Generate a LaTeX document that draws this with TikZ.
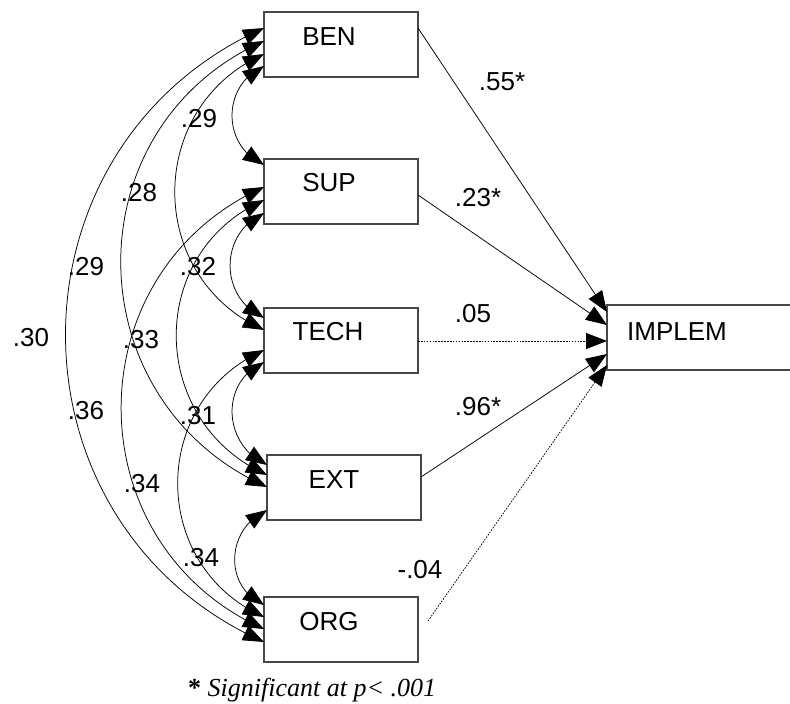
\documentclass[tikz,border=0pt]{standalone}
\usepackage{fontspec}
\setmainfont{Liberation Sans}
\newfontfamily\fnfont{Liberation Serif}
\usetikzlibrary{arrows.meta,bending,calc}
\begin{document}
\begin{tikzpicture}[x=1pt,y=1pt,
  box/.style={draw=black!72, line width=1.2pt, minimum width=154pt, minimum height=65pt,
    inner sep=0pt, outer sep=0pt, anchor=north west},
  txt/.style={font=\fontsize{26}{30}\selectfont, inner sep=0pt},
  conn/.style={line width=0.75pt, -{Triangle[length=21pt,width=16pt]}},
  corr/.style={line width=0.75pt, {Triangle[length=21pt,width=16pt]}-{Triangle[length=21pt,width=16pt]},
    out=204, in=156, looseness=1.21},
  dotline/.style={dash pattern=on 1.6pt off 1.3pt}
]
\useasboundingbox (0,0) rectangle (790,-704);

% boxes
\node[box] (BEN) at (264,-12) {};
\node[box] (SUP) at (264,-159) {};
\node[box] (TECH) at (264,-308) {};
\node[box] (EXT) at (267,-455) {};
\node[box] (ORG) at (264,-597) {};
\node[box, minimum width=186pt] (IMP) at (607,-305) {};

\node[txt] (tBEN) at (329,-37) {BEN};
\node[txt] (tSUP) at (329,-183) {SUP};
\node[txt] (tTECH) at (328,-332) {TECH};
\node[txt] (tEXT) at (334,-480) {EXT};
\node[txt] (tORG) at (329,-622) {ORG};
\node[txt] (tIMP) at (677,-332) {IMPLEM};

% left edge points
\coordinate (B1) at ($(BEN.north west)+(0,-16)$);
\coordinate (B2) at ($(BEN.north west)+(0,-29)$);
\coordinate (B3) at ($(BEN.north west)+(0,-42)$);
\coordinate (B4) at ($(BEN.north west)+(0,-54)$);
\coordinate (S1) at ($(SUP.north west)+(0,-6)$);
\coordinate (S2) at ($(SUP.north west)+(0,-28)$);
\coordinate (S3) at ($(SUP.north west)+(0,-41)$);
\coordinate (S4) at ($(SUP.north west)+(0,-54)$);
\coordinate (T1) at ($(TECH.north west)+(0,-10)$);
\coordinate (T2) at ($(TECH.north west)+(0,-22)$);
\coordinate (T3) at ($(TECH.north west)+(0,-42)$);
\coordinate (T4) at ($(TECH.north west)+(0,-54)$);
\coordinate (E1) at ($(EXT.north west)+(0,-10)$);
\coordinate (E2) at ($(EXT.north west)+(0,-20)$);
\coordinate (E3) at ($(EXT.north west)+(0,-32)$);
\coordinate (E4) at ($(EXT.north west)+(0,-55)$);
\coordinate (O1) at ($(ORG.north west)+(0,-8)$);
\coordinate (O2) at ($(ORG.north west)+(0,-20)$);
\coordinate (O3) at ($(ORG.north west)+(0,-32)$);
\coordinate (O4) at ($(ORG.north west)+(0,-45)$);

% correlations
\draw[corr] (B4) to (S1);
\draw[corr] (B3) to (T2);
\draw[corr] (B2) to (E3);
\draw[corr] (B1) to (O4);
\draw[corr] (S4) to (T1);
\draw[corr] (S3) to (E2);
\draw[corr] (S2) to (O3);
\draw[corr] (T4) to (E1);
\draw[corr] (T3) to (O2);
\draw[corr] (E4) to (O1);

% correlation labels
\node[txt] (c1) at (199,-119) {.29};
\node[txt] (c2) at (139,-193) {.28};
\node[txt] (c3) at (86,-267) {.29};
\node[txt] (c4) at (198,-267) {.32};
\node[txt] (c5) at (31,-338) {.30};
\node[txt] (c6) at (141,-340) {.33};
\node[txt] (c7) at (86,-411) {.36};
\node[txt] (c8) at (198,-416) {.31};
\node[txt] (c9) at (142,-484) {.34};
\node[txt] (c10) at (201,-558) {.34};

% right side paths
\coordinate (Br) at ($(BEN.north east)+(0,-16)$);
\coordinate (Sr) at ($(SUP.north east)+(0,-36)$);
\coordinate (Tr) at ($(TECH.north east)+(0,-33)$);
\coordinate (Er) at ($(EXT.north east)+(0,-22)$);
\coordinate (Or) at ($(ORG.north east)+(10,-24)$);
\coordinate (I1) at ($(IMP.north west)+(0,-7)$);
\coordinate (I2) at ($(IMP.north west)+(0,-20)$);
\coordinate (I3) at ($(IMP.north west)+(0,-36)$);
\coordinate (I4) at ($(IMP.north west)+(0,-49)$);
\coordinate (I5) at ($(IMP.north west)+(0,-60)$);

\draw[conn] (Br) -- (I1);
\draw[conn] (Sr) -- (I2);
\draw[conn,dotline] (Tr) -- (I3);
\draw[conn] (Er) -- (I4);
\draw[conn,dotline] (Or) -- (I5);

\node[txt] (p1) at (502,-82) {.55*};
\node[txt] (p2) at (478,-198) {.23*};
\node[txt] (p3) at (473,-314) {.05};
\node[txt] (p4) at (478,-407) {.96*};
\node[txt] (p5) at (420,-570) {-.04};

\node[anchor=base west, inner sep=0pt, font=\fontsize{26}{30}\selectfont\fnfont] (note) at (188,-696)
  {{\bfseries *} \itshape Significant at p< .001};
\end{tikzpicture}
\end{document}
